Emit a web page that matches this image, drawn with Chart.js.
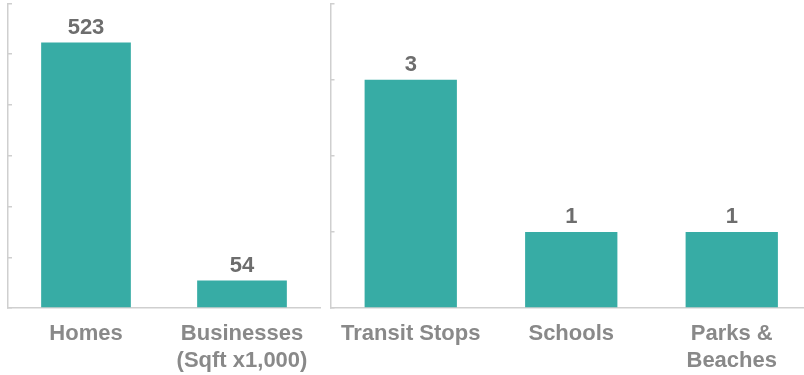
<!DOCTYPE html>
<html>
<head>
<meta charset="utf-8">
<script src="https://cdn.jsdelivr.net/npm/chart.js@4"></script>
<style>
html,body{margin:0;padding:0;background:#fff;overflow:hidden;}
#wrap{position:relative;width:804px;height:375px;overflow:hidden;}
#leftChart{position:absolute;left:0;top:0;}
#rightChart{position:absolute;left:322px;top:0;}
</style>
</head>
<body>
<div id="wrap">
<canvas id="leftChart" width="322" height="375"></canvas>
<canvas id="rightChart" width="490" height="375"></canvas>
</div>
<script>
// data
const leftLabels = ["Homes", ["Businesses", "(Sqft x1,000)"]]
const leftValues = [523, 54]
const leftMax = 600
const leftStep = 100

const rightLabels = ["Transit Stops", "Schools", ["Parks &", "Beaches"]]
const rightValues = [3, 1, 1]
const rightMax = 4
const rightStep = 1

const barColor = "#37aca5"
const axisColor = "#cfcfcf"

Chart.defaults.font.family = '"Liberation Sans", Arial, sans-serif'

// numbers above bars
const valueLabels = {
id: "valueLabels",
afterDatasetsDraw(chart){
const ctx = chart.ctx
const meta = chart.getDatasetMeta(0)
const data = chart.data.datasets[0].data
ctx.save()
ctx.font = 'bold 22px "Liberation Sans", Arial, sans-serif'
ctx.fillStyle = "#6d6d6d"
ctx.textAlign = "center"
ctx.textBaseline = "alphabetic"
meta.data.forEach((bar, i)=>{
ctx.fillText(data[i], bar.x, bar.y - 9)
})
ctx.restore()
}
}

function buildChart(id, labels, values, max, step, padLeft, padRight){

return new Chart(document.getElementById(id), {
type: "bar",
data: {
labels: labels,
datasets: [{
data: values,
backgroundColor: barColor,
categoryPercentage: 1,
barPercentage: 0.575
}]
},
options: {
responsive: false,
animation: false,
layout: {
padding: {left: padLeft, right: padRight, top: 3.5, bottom: 0}
},
plugins: {
legend: {display: false},
tooltip: {enabled: false}
},
scales: {
x: {
grid: {display: false, drawTicks: false},
border: {display: true, color: axisColor, width: 1.5},
ticks: {
color: "#898989",
padding: 13,
font: {size: 22, weight: "bold", lineHeight: 1.2},
maxRotation: 0,
autoSkip: false
},
afterFit: s => { s.height = 67 }
},
y: {
min: 0,
max: max,
grid: {
drawOnChartArea: false,
drawTicks: true,
tickLength: -4,
color: axisColor,
lineWidth: 1.5
},
border: {display: true, color: axisColor, width: 1.5},
ticks: {display: false, stepSize: step},
afterFit: s => { s.width = 0 }
}
}
},
plugins: [valueLabels]
})

}

buildChart("leftChart", leftLabels, leftValues, leftMax, leftStep, 8, 2)
buildChart("rightChart", rightLabels, rightValues, rightMax, rightStep, 8.5, 0)
</script>
</body>
</html>
